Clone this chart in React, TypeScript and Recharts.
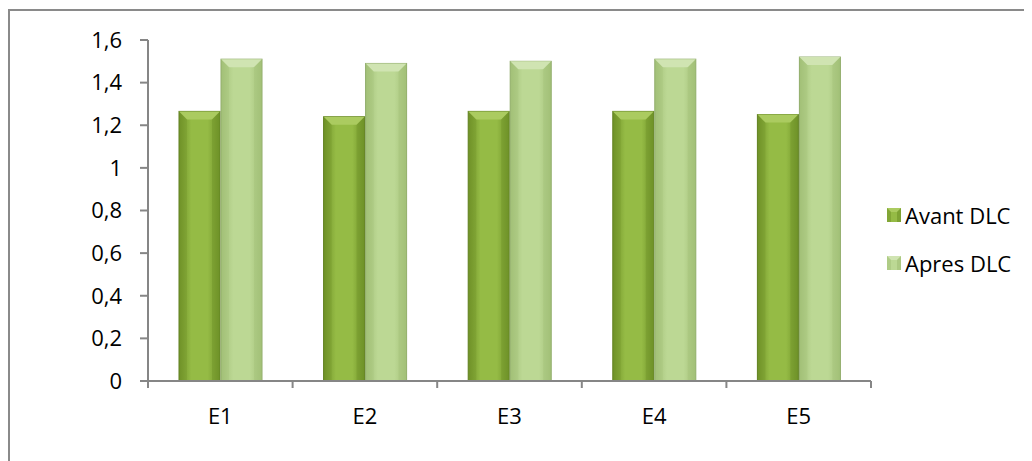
import React from "react";
import { Bar, BarChart, Legend, XAxis, YAxis } from "recharts";

const CATEGORIES = ["E1", "E2", "E3", "E4", "E5"];
const AVANT = [1.265, 1.24, 1.265, 1.265, 1.25];
const APRES = [1.51, 1.49, 1.5, 1.51, 1.52];
const Y_TICKS = [0, 0.2, 0.4, 0.6, 0.8, 1, 1.2, 1.4, 1.6];

const SERIES = [
  { key: "avant", name: "Avant DLC", edge: "#6f9228", mid: "#95bb45", top: "#abcb60", line: "#5f7f20" },
  { key: "apres", name: "Apres DLC", edge: "#a2c077", mid: "#bcd894", top: "#d0e4b2", line: "#8eaa69" },
];

const data = CATEGORIES.map((c, i) => ({ name: c, avant: AVANT[i], apres: APRES[i] }));

const FONT = "'Open Sans', sans-serif";
const FONT_SIZE = 22;
const AXIS = "#868686";
const LEGEND_W = 140;

function makeShape(s: (typeof SERIES)[number]) {
  return (props: any) => {
    const { x, y, width: w, height: h } = props;
    if (!h || h <= 0) return null;
    const b = Math.min(8, w / 4);
    return (
      <g>
        <rect x={x} y={y} width={w} height={h} fill={`url(#grad-${s.key})`} stroke={s.line} strokeWidth={1} />
        <polygon
          points={`${x},${y} ${x + w},${y} ${x + w - b},${y + b} ${x + b},${y + b}`}
          fill={s.top}
        />
        <polygon points={`${x},${y} ${x + b},${y + b} ${x + b},${y + h} ${x},${y + h}`} fill={s.edge} opacity={0.3} />
        <polygon points={`${x + w},${y} ${x + w - b},${y + b} ${x + w - b},${y + h} ${x + w},${y + h}`} fill={s.edge} opacity={0.4} />
      </g>
    );
  };
}

// category labels at band centres, tick marks at band boundaries
const XTick = (props: any) => {
  const { x, y, payload, index, width, visibleTicksCount } = props;
  const band = width / visibleTicksCount;
  const axisY = y - 27;
  return (
    <g>
      <line x1={x - band / 2} x2={x - band / 2} y1={axisY} y2={axisY + 7} stroke={AXIS} strokeWidth={2} />
      {index === visibleTicksCount - 1 && (
        <line x1={x + band / 2} x2={x + band / 2} y1={axisY} y2={axisY + 7} stroke={AXIS} strokeWidth={2} />
      )}
      <text x={x} y={y} dy="0.71em" textAnchor="middle" fill="#000" fontSize={FONT_SIZE} fontFamily={FONT}>
        {payload.value}
      </text>
    </g>
  );
};

const LegendContent = () => (
  <div style={{ fontFamily: FONT, fontSize: FONT_SIZE, color: "#000", whiteSpace: "nowrap" }}>
    {SERIES.map((s, i) => (
      <div key={s.key} style={{ display: "flex", alignItems: "center", height: 24, marginBottom: i === 0 ? 24 : 0 }}>
        <svg width={14} height={14} style={{ marginRight: 4 }}>
          <rect x={0} y={0} width={14} height={14} fill={s.mid} />
          <polygon points="0,0 14,0 10,4 4,4" fill={s.top} />
          <polygon points="0,0 4,4 4,14 0,14" fill={s.edge} opacity={0.5} />
          <polygon points="14,0 10,4 10,14 14,14" fill={s.edge} opacity={0.6} />
        </svg>
        <span>{s.name}</span>
      </div>
    ))}
  </div>
);

export default function App() {
  return (
    <div
      style={{
        width: 1040,
        height: 470,
        border: "2px solid #8a8a8a",
        borderRight: "none",
        borderBottom: "none",
        marginTop: 1,
        background: "#fff",
        overflow: "hidden",
      }}
    >
      <BarChart
        width={1030}
        height={460}
        data={data}
        margin={{ top: 29, right: 169 - LEGEND_W, left: 78, bottom: 60 }}
        barSize={41}
        barGap={1}
      >
        <defs>
          {SERIES.map((s) => (
            <linearGradient key={s.key} id={`grad-${s.key}`} x1="0" y1="0" x2="1" y2="0">
              <stop offset="0%" stopColor={s.edge} />
              <stop offset="30%" stopColor={s.mid} />
              <stop offset="70%" stopColor={s.mid} />
              <stop offset="100%" stopColor={s.edge} />
            </linearGradient>
          ))}
        </defs>
        <XAxis
          dataKey="name"
          axisLine={{ stroke: AXIS, strokeWidth: 2 }}
          tickLine={false}
          tickMargin={20}
          tickSize={7}
          height={30}
          tick={<XTick />}
          interval={0}
        />
        <YAxis
          domain={[0, 1.6]}
          ticks={Y_TICKS}
          width={60}
          axisLine={{ stroke: AXIS, strokeWidth: 2 }}
          tickLine={{ stroke: AXIS, strokeWidth: 2 }}
          tickSize={8}
          tickMargin={18}
          tickFormatter={(v: number) => String(Number(v.toFixed(1))).replace(".", ",")}
          tick={{ fill: "#000", fontSize: FONT_SIZE, fontFamily: FONT }}
        />
        <Legend
          layout="vertical"
          align="right"
          verticalAlign="middle"
          content={<LegendContent />}
          wrapperStyle={{ position: "absolute", left: 877, top: 192, width: LEGEND_W }}
        />
        {SERIES.map((s) => (
          <Bar key={s.key} dataKey={s.key} name={s.name} shape={makeShape(s)} isAnimationActive={false} />
        ))}
      </BarChart>
    </div>
  );
}
